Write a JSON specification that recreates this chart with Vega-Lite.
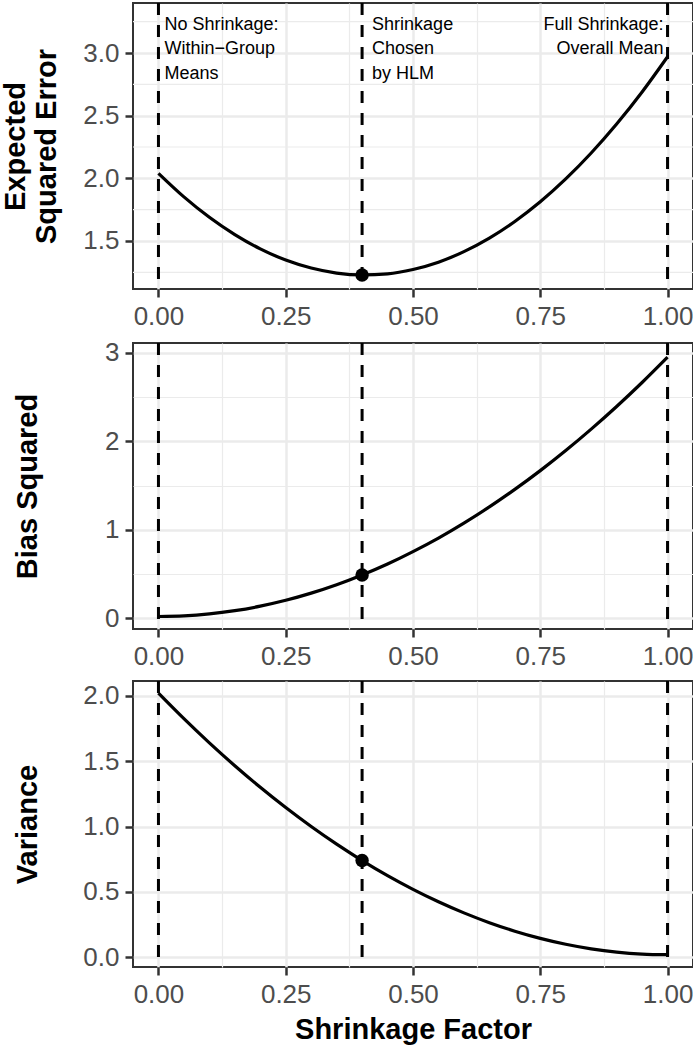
{
  "$schema": "https://vega.github.io/schema/vega-lite/v6.json",
  "padding": 0,
  "spacing": 8,
  "background": "white",
  "datasets": {
    "curve": [
      {"s": 0.00, "bias": 0.020, "variance": 2.020, "error": 2.040},
      {"s": 0.05, "bias": 0.027, "variance": 1.825, "error": 1.852},
      {"s": 0.10, "bias": 0.049, "variance": 1.640, "error": 1.689},
      {"s": 0.15, "bias": 0.086, "variance": 1.465, "error": 1.551},
      {"s": 0.20, "bias": 0.137, "variance": 1.300, "error": 1.437},
      {"s": 0.25, "bias": 0.203, "variance": 1.145, "error": 1.348},
      {"s": 0.30, "bias": 0.284, "variance": 1.000, "error": 1.284},
      {"s": 0.35, "bias": 0.379, "variance": 0.865, "error": 1.244},
      {"s": 0.40, "bias": 0.489, "variance": 0.740, "error": 1.229},
      {"s": 0.45, "bias": 0.613, "variance": 0.625, "error": 1.238},
      {"s": 0.50, "bias": 0.753, "variance": 0.520, "error": 1.273},
      {"s": 0.55, "bias": 0.906, "variance": 0.425, "error": 1.331},
      {"s": 0.60, "bias": 1.075, "variance": 0.340, "error": 1.415},
      {"s": 0.65, "bias": 1.258, "variance": 0.265, "error": 1.523},
      {"s": 0.70, "bias": 1.456, "variance": 0.200, "error": 1.656},
      {"s": 0.75, "bias": 1.668, "variance": 0.145, "error": 1.813},
      {"s": 0.80, "bias": 1.895, "variance": 0.100, "error": 1.995},
      {"s": 0.85, "bias": 2.137, "variance": 0.065, "error": 2.202},
      {"s": 0.90, "bias": 2.393, "variance": 0.040, "error": 2.433},
      {"s": 0.95, "bias": 2.664, "variance": 0.025, "error": 2.689},
      {"s": 1.00, "bias": 2.950, "variance": 0.020, "error": 2.970}
    ],
    "hlm": [
      {"s": 0.4, "bias": 0.489, "variance": 0.740, "error": 1.229}
    ],
    "vlines": [
      {"s": 0.0},
      {"s": 0.4},
      {"s": 1.0}
    ],
    "minor1": [
      {"error": 1.25}, {"error": 1.75}, {"error": 2.25}, {"error": 2.75}, {"error": 3.25}
    ],
    "notes": [
      {"s": 0.0, "error": 3.298, "label": "No Shrinkage:\nWithin−Group\nMeans"},
      {"s": 0.4, "error": 3.298, "label": "Shrinkage\nChosen\nby HLM"},
      {"s": 1.0, "error": 3.298, "label": "Full Shrinkage:\nOverall Mean"}
    ]
  },
  "vconcat": [
    {
      "width": 560,
      "height": 286,
      "layer": [
        {
          "data": {"name": "minor1"},
          "mark": {"type": "rule", "color": "#EBEBEB", "strokeWidth": 1.2},
          "encoding": {
            "y": {
              "field": "error", "type": "quantitative",
              "scale": {"domain": [1.117, 3.399], "nice": false, "zero": false},
              "axis": {
                "title": ["Expected", "Squared Error"],
                "titleLineHeight": 31,
                "titleX": -117.5,
                "titleBaseline": "middle",
                "titleAlign": "center",
                "titleAngle": 270,
                "values": [1.5, 2, 2.5, 3],
                "format": ".1f",
                "gridWidth": 2.5,
                "labelOverlap": false,
                "labelFlush": false
              }
            }
          }
        },
        {
          "data": {"name": "curve"},
          "mark": {"type": "line", "color": "black", "strokeWidth": 3.2, "interpolate": "monotone"},
          "encoding": {
            "x": {
              "field": "s", "type": "quantitative",
              "scale": {"domain": [-0.05, 1.05], "nice": false, "zero": false},
              "axis": {
                "title": null,
                "values": [0, 0.125, 0.25, 0.375, 0.5, 0.625, 0.75, 0.875, 1],
                "labelExpr": "abs(datum.value * 4 - round(datum.value * 4)) < 0.001 ? format(datum.value, '.2f') : ''",
                "gridWidth": {"condition": {"test": "abs(datum.value * 4 - round(datum.value * 4)) < 0.001", "value": 2.5}, "value": 1.2},
                "tickOpacity": {"condition": {"test": "abs(datum.value * 4 - round(datum.value * 4)) < 0.001", "value": 1}, "value": 0},
                "labelOverlap": false,
                "labelFlush": false
              }
            },
            "y": {"field": "error", "type": "quantitative"}
          }
        },
        {
          "data": {"name": "vlines"},
          "mark": {"type": "rule", "color": "black", "strokeWidth": 3, "strokeDash": [12, 10]},
          "encoding": {
            "x": {"field": "s", "type": "quantitative"}
          }
        },
        {
          "data": {"name": "hlm"},
          "mark": {"type": "point", "filled": true, "color": "black", "opacity": 1, "size": 180},
          "encoding": {
            "x": {"field": "s", "type": "quantitative"},
            "y": {"field": "error", "type": "quantitative"}
          }
        },
        {
          "data": {"name": "notes"},
          "transform": [{"filter": "datum.s < 0.2"}],
          "mark": {"type": "text", "align": "left", "baseline": "top", "dx": 6, "font": "Liberation Sans", "fontSize": 18, "lineHeight": 24.5, "lineBreak": "\n", "color": "black"},
          "encoding": {
            "x": {"field": "s", "type": "quantitative"},
            "y": {"field": "error", "type": "quantitative"},
            "text": {"field": "label"}
          }
        },
        {
          "data": {"name": "notes"},
          "transform": [{"filter": "datum.s > 0.2 && datum.s < 0.6"}],
          "mark": {"type": "text", "align": "left", "baseline": "top", "dx": 10, "font": "Liberation Sans", "fontSize": 18, "lineHeight": 24.5, "lineBreak": "\n", "color": "black"},
          "encoding": {
            "x": {"field": "s", "type": "quantitative"},
            "y": {"field": "error", "type": "quantitative"},
            "text": {"field": "label"}
          }
        },
        {
          "data": {"name": "notes"},
          "transform": [{"filter": "datum.s > 0.6"}],
          "mark": {"type": "text", "align": "right", "baseline": "top", "dx": -4, "font": "Liberation Sans", "fontSize": 18, "lineHeight": 24.5, "lineBreak": "\n", "color": "black"},
          "encoding": {
            "x": {"field": "s", "type": "quantitative"},
            "y": {"field": "error", "type": "quantitative"},
            "text": {"field": "label"}
          }
        }
      ]
    },
    {
      "width": 560,
      "height": 286,
      "layer": [
        {
          "data": {"name": "curve"},
          "mark": {"type": "line", "color": "black", "strokeWidth": 3.2, "interpolate": "monotone"},
          "encoding": {
            "x": {
              "field": "s", "type": "quantitative",
              "scale": {"domain": [-0.05, 1.05], "nice": false, "zero": false},
              "axis": {
                "title": null,
                "values": [0, 0.125, 0.25, 0.375, 0.5, 0.625, 0.75, 0.875, 1],
                "labelExpr": "abs(datum.value * 4 - round(datum.value * 4)) < 0.001 ? format(datum.value, '.2f') : ''",
                "gridWidth": {"condition": {"test": "abs(datum.value * 4 - round(datum.value * 4)) < 0.001", "value": 2.5}, "value": 1.2},
                "tickOpacity": {"condition": {"test": "abs(datum.value * 4 - round(datum.value * 4)) < 0.001", "value": 1}, "value": 0},
                "labelOverlap": false,
                "labelFlush": false
              }
            },
            "y": {
              "field": "bias", "type": "quantitative",
              "scale": {"domain": [-0.121, 3.11], "nice": false, "zero": false},
              "axis": {
                "title": "Bias Squared",
                "titleX": -106,
                "titleBaseline": "middle",
                "titleAlign": "center",
                "titleAngle": 270,
                "values": [0, 0.5, 1, 1.5, 2, 2.5, 3],
                "labelExpr": "abs(datum.value - round(datum.value)) < 0.001 ? format(datum.value, 'd') : ''",
                "gridWidth": {"condition": {"test": "abs(datum.value - round(datum.value)) < 0.001", "value": 2.5}, "value": 1.2},
                "tickOpacity": {"condition": {"test": "abs(datum.value - round(datum.value)) < 0.001", "value": 1}, "value": 0},
                "labelOverlap": false,
                "labelFlush": false
              }
            }
          }
        },
        {
          "data": {"name": "vlines"},
          "mark": {"type": "rule", "color": "black", "strokeWidth": 3, "strokeDash": [12, 10]},
          "encoding": {
            "x": {"field": "s", "type": "quantitative"}
          }
        },
        {
          "data": {"name": "hlm"},
          "mark": {"type": "point", "filled": true, "color": "black", "opacity": 1, "size": 180},
          "encoding": {
            "x": {"field": "s", "type": "quantitative"},
            "y": {"field": "bias", "type": "quantitative"}
          }
        }
      ]
    },
    {
      "width": 560,
      "height": 286,
      "layer": [
        {
          "data": {"name": "curve"},
          "mark": {"type": "line", "color": "black", "strokeWidth": 3.2, "interpolate": "monotone"},
          "encoding": {
            "x": {
              "field": "s", "type": "quantitative",
              "scale": {"domain": [-0.05, 1.05], "nice": false, "zero": false},
              "axis": {
                "title": "Shrinkage Factor",
                "titlePadding": 8,
                "values": [0, 0.125, 0.25, 0.375, 0.5, 0.625, 0.75, 0.875, 1],
                "labelExpr": "abs(datum.value * 4 - round(datum.value * 4)) < 0.001 ? format(datum.value, '.2f') : ''",
                "gridWidth": {"condition": {"test": "abs(datum.value * 4 - round(datum.value * 4)) < 0.001", "value": 2.5}, "value": 1.2},
                "tickOpacity": {"condition": {"test": "abs(datum.value * 4 - round(datum.value * 4)) < 0.001", "value": 1}, "value": 0},
                "labelOverlap": false,
                "labelFlush": false
              }
            },
            "y": {
              "field": "variance", "type": "quantitative",
              "scale": {"domain": [-0.074, 2.113], "nice": false, "zero": false},
              "axis": {
                "title": "Variance",
                "titleX": -106,
                "titleBaseline": "middle",
                "titleAlign": "center",
                "titleAngle": 270,
                "values": [0, 0.25, 0.5, 0.75, 1, 1.25, 1.5, 1.75, 2],
                "labelExpr": "abs(datum.value * 2 - round(datum.value * 2)) < 0.001 ? format(datum.value, '.1f') : ''",
                "gridWidth": {"condition": {"test": "abs(datum.value * 2 - round(datum.value * 2)) < 0.001", "value": 2.5}, "value": 1.2},
                "tickOpacity": {"condition": {"test": "abs(datum.value * 2 - round(datum.value * 2)) < 0.001", "value": 1}, "value": 0},
                "labelOverlap": false,
                "labelFlush": false
              }
            }
          }
        },
        {
          "data": {"name": "vlines"},
          "mark": {"type": "rule", "color": "black", "strokeWidth": 3, "strokeDash": [12, 10]},
          "encoding": {
            "x": {"field": "s", "type": "quantitative"}
          }
        },
        {
          "data": {"name": "hlm"},
          "mark": {"type": "point", "filled": true, "color": "black", "opacity": 1, "size": 180},
          "encoding": {
            "x": {"field": "s", "type": "quantitative"},
            "y": {"field": "variance", "type": "quantitative"}
          }
        }
      ]
    }
  ],
  "config": {
    "view": {"stroke": "#333333", "strokeWidth": 2},
    "axis": {
      "labelFont": "Liberation Sans",
      "labelFontSize": 26,
      "labelColor": "#4D4D4D",
      "labelPadding": 6,
      "titleFont": "Liberation Sans",
      "titleFontSize": 29,
      "titleFontWeight": "bold",
      "titleColor": "#000000",
      "domain": false,
      "tickColor": "#333333",
      "tickSize": 8,
      "tickWidth": 2.5,
      "grid": true,
      "gridColor": "#EBEBEB"
    }
  }
}
